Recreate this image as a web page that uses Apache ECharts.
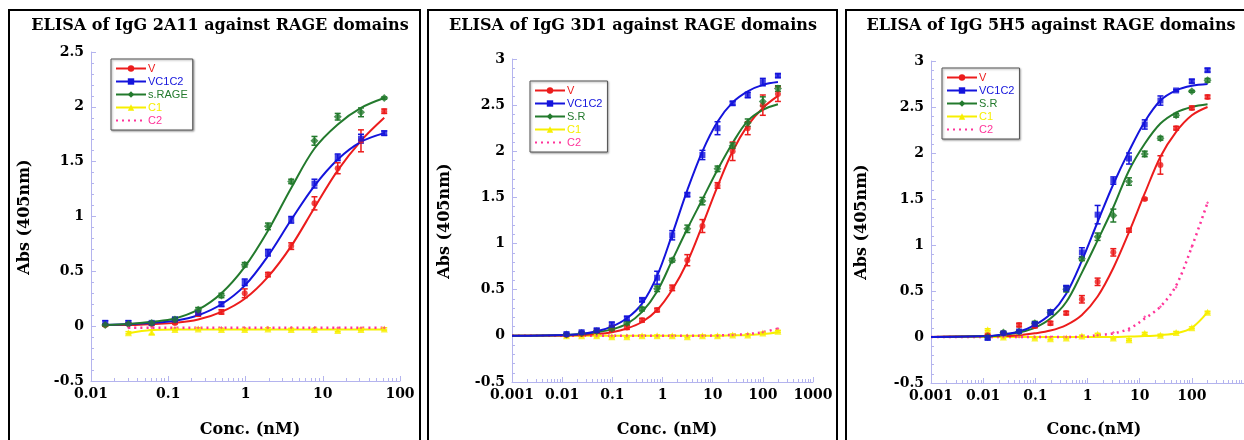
<!DOCTYPE html>
<html>
<head>
<meta charset="utf-8">
<title>ELISA of IgG against RAGE domains</title>
<script src="https://cdn.jsdelivr.net/npm/echarts@6/dist/echarts.min.js"></script>
<style>
html,body{margin:0;padding:0;background:#fff;}
#chart{width:1244px;height:440px;}
</style>
</head>
<body>
<div id="chart"></div>
<script>
// ===== data =====
// concentrations (nM), 2-fold dilution series
var concA = [0.0153, 0.0305, 0.061, 0.122, 0.244, 0.488, 0.977, 1.953, 3.906, 7.8125, 15.625, 31.25, 62.5];
var concB = [0.0122, 0.0244, 0.0488, 0.0977, 0.195, 0.391, 0.781, 1.5625, 3.125, 6.25, 12.5, 25, 50, 100, 200];
// panels 2 and 3: fitted curves start at the left end of the axis
var fitB = [0.001, 0.0122, 0.0244, 0.0488, 0.0977, 0.195, 0.391, 0.781, 1.5625, 3.125, 6.25, 12.5, 25, 50, 100, 200];

var titles = ['ELISA of IgG 2A11 against RAGE domains', 'ELISA of IgG 3D1 against RAGE domains', 'ELISA of IgG 5H5 against RAGE domains'];
var xNames = ['Conc. (nM)', 'Conc. (nM)', 'Conc.(nM)'];
var yName = 'Abs (405nm)';
var legend1 = ['V', 'VC1C2', 's.RAGE', 'C1', 'C2'];
var legend2 = ['V', 'VC1C2', 'S.R', 'C1', 'C2'];

// panel 1 : IgG 2A11
var p1V      = [0.01, 0.02, 0.02, 0.03, 0.11, 0.13, 0.30, 0.47, 0.73, 1.12, 1.44, 1.69, 1.96];
var p1VErr   = [0.01, 0.01, 0.01, 0.01, 0.02, 0.02, 0.04, 0.02, 0.03, 0.06, 0.05, 0.10, 0.02];
var p1VC     = [0.03, 0.03, 0.03, 0.06, 0.12, 0.20, 0.40, 0.67, 0.97, 1.30, 1.54, 1.71, 1.76];
var p1VCErr  = [0.02, 0.02, 0.01, 0.02, 0.02, 0.02, 0.03, 0.03, 0.03, 0.04, 0.03, 0.04, 0.02];
var p1SR     = [0.01, 0.02, 0.03, 0.06, 0.15, 0.28, 0.56, 0.91, 1.32, 1.69, 1.91, 1.95, 2.08];
var p1SRErr  = [0.01, 0.01, 0.01, 0.02, 0.02, 0.02, 0.02, 0.03, 0.02, 0.04, 0.03, 0.04, 0.01];
var p1C1     = [null, -0.06, -0.055, -0.03, -0.025, -0.03, -0.03, -0.025, -0.03, -0.03, -0.04, -0.03, -0.025];
var p1C1Err  = [0, 0.01, 0.02, 0.01, 0.01, 0.01, 0.01, 0.01, 0.01, 0.01, 0.01, 0.01, 0.01];
var p1C2     = [null, -0.015, -0.015, -0.015, -0.015, -0.015, -0.015, -0.015, -0.015, -0.015, -0.015, -0.015, -0.015];
var p1VFit   = [0.01, 0.01, 0.02, 0.03, 0.06, 0.13, 0.25, 0.45, 0.73, 1.08, 1.42, 1.69, 1.90];
var p1VCFit  = [0.01, 0.02, 0.03, 0.05, 0.10, 0.20, 0.37, 0.64, 0.97, 1.28, 1.52, 1.68, 1.76];
var p1SRFit  = [0.01, 0.02, 0.04, 0.07, 0.15, 0.30, 0.54, 0.87, 1.26, 1.62, 1.84, 1.99, 2.08];
var p1C1Fit  = [null, -0.065, -0.035, -0.03, -0.03, -0.03, -0.03, -0.03, -0.03, -0.03, -0.03, -0.03, -0.03];
var p1C2Fit  = [null, -0.015, -0.015, -0.015, -0.015, -0.015, -0.015, -0.015, -0.015, -0.015, -0.015, -0.015, -0.015];

// panel 2 : IgG 3D1
var p2V      = [0.01, 0.02, 0.05, 0.08, 0.09, 0.17, 0.28, 0.52, 0.82, 1.19, 1.63, 2.00, 2.25, 2.50, 2.62];
var p2VErr   = [0.01, 0.01, 0.01, 0.03, 0.02, 0.02, 0.02, 0.03, 0.06, 0.07, 0.03, 0.10, 0.07, 0.11, 0.08];
var p2VC     = [0.02, 0.04, 0.06, 0.12, 0.19, 0.39, 0.63, 1.09, 1.53, 1.96, 2.25, 2.52, 2.61, 2.75, 2.82];
var p2VCErr  = [0.01, 0.01, 0.02, 0.03, 0.02, 0.02, 0.07, 0.05, 0.02, 0.05, 0.07, 0.02, 0.03, 0.04, 0.02];
var p2SR     = [0.015, 0.03, 0.05, 0.08, 0.14, 0.29, 0.51, 0.82, 1.16, 1.46, 1.81, 2.06, 2.31, 2.54, 2.68];
var p2SRErr  = [0.01, 0.01, 0.01, 0.02, 0.02, 0.02, 0.03, 0.02, 0.04, 0.04, 0.03, 0.03, 0.04, 0.05, 0.03];
var p2C1     = [0, 0, 0, -0.01, -0.01, 0, 0, 0, -0.01, 0, 0, 0.01, 0.01, 0.03, 0.05];
var p2C1Err  = [0.01, 0.01, 0.01, 0.01, 0.01, 0.01, 0.01, 0.01, 0.01, 0.01, 0.01, 0.01, 0.01, 0.01, 0.01];
var p2C2     = [0, 0, 0, 0, 0, 0, 0, 0, 0, 0, 0, 0.01, 0.02, 0.04, 0.08];
var p2VFit   = [0, 0.005, 0.01, 0.02, 0.04, 0.08, 0.15, 0.28, 0.50, 0.80, 1.20, 1.62, 2.00, 2.28, 2.47, 2.60];
var p2VCFit  = [0, 0.01, 0.02, 0.05, 0.10, 0.19, 0.35, 0.65, 1.10, 1.58, 2.00, 2.32, 2.53, 2.65, 2.72, 2.75];
var p2SRFit  = [0, 0.01, 0.02, 0.04, 0.07, 0.13, 0.26, 0.48, 0.82, 1.16, 1.48, 1.80, 2.09, 2.33, 2.45, 2.51];
var p2C1Fit  = [0, 0, 0, 0, 0, 0, 0, 0, 0, 0, 0, 0, 0.005, 0.01, 0.02, 0.04];
var p2C2Fit  = [0, 0, 0, 0, 0, 0, 0, 0, 0, 0, 0, 0.005, 0.01, 0.02, 0.04, 0.08];

// panel 3 : IgG 5H5
var p3V      = [0.02, 0.04, 0.13, 0.12, 0.15, 0.26, 0.41, 0.60, 0.92, 1.16, 1.50, 1.87, 2.27, 2.49, 2.61];
var p3VErr   = [0.01, 0.01, 0.02, 0.02, 0.02, 0.02, 0.04, 0.04, 0.04, 0.02, 0.01, 0.10, 0.02, 0.02, 0.02];
var p3VC     = [-0.01, 0.04, 0.06, 0.14, 0.27, 0.53, 0.92, 1.33, 1.70, 1.94, 2.31, 2.57, 2.68, 2.78, 2.90];
var p3VCErr  = [0.02, 0.01, 0.01, 0.02, 0.02, 0.03, 0.05, 0.10, 0.04, 0.06, 0.05, 0.05, 0.01, 0.02, 0.02];
var p3SR     = [0, 0.05, 0.06, 0.15, 0.27, 0.52, 0.85, 1.09, 1.32, 1.69, 1.99, 2.16, 2.41, 2.67, 2.79];
var p3SRErr  = [0.01, 0.01, 0.01, 0.02, 0.02, 0.03, 0.02, 0.04, 0.07, 0.04, 0.03, 0.02, 0.02, 0.01, 0.02];
var p3C1     = [0.08, 0, 0.06, -0.01, -0.02, -0.01, 0.01, 0.03, -0.01, -0.03, 0.04, 0.02, 0.05, 0.10, 0.27];
var p3C1Err  = [0.01, 0.01, 0.01, 0.01, 0.01, 0.01, 0.01, 0.01, 0.01, 0.01, 0.01, 0.01, 0.01, 0.01, 0.01];
var p3C2     = [0, 0, 0, 0, 0, 0, 0.01, 0.02, 0.05, 0.07, 0.22, 0.33, 0.54, 0.98, 1.46];
var p3VFit   = [0, 0.01, 0.01, 0.02, 0.04, 0.07, 0.13, 0.24, 0.44, 0.75, 1.14, 1.56, 1.96, 2.23, 2.41, 2.50];
var p3VCFit  = [0, 0.01, 0.03, 0.06, 0.13, 0.25, 0.47, 0.83, 1.25, 1.66, 2.02, 2.34, 2.57, 2.68, 2.73, 2.75];
var p3SRFit  = [0, 0.01, 0.02, 0.05, 0.10, 0.20, 0.38, 0.70, 1.05, 1.41, 1.81, 2.10, 2.32, 2.44, 2.50, 2.53];
var p3C1Fit  = [0, 0, 0, 0, 0, 0, 0, 0, 0, 0, 0.005, 0.01, 0.02, 0.04, 0.10, 0.27];
var p3C2Fit  = [0, 0, 0, 0, 0, 0, 0, 0, 0.02, 0.04, 0.09, 0.20, 0.33, 0.56, 0.98, 1.46];

// ===== styling =====
var RED = '#ec1c1c', BLUE = '#1414dc', GREEN = '#237a2d', YELLOW = '#f7ef00', PINK = '#ff3399';
var AXIS = '#b4b4ee';
var SERIF = '"DejaVu Serif", serif';
var SANS = '"Liberation Sans", Arial, sans-serif';

// pixel boxes of the three plots
var grids = [
	{left: 91, top: 52, width: 309, height: 329},
	{left: 512, top: 59, width: 301, height: 323},
	{left: 931, top: 61, width: 322, height: 322}
];
var xRange = [[0.01, 100], [0.001, 1000], [0.001, 1000]];
var yRange = [[-0.5, 2.5], [-0.5, 3], [-0.5, 3]];

function pairs(xs, ys){
	var out = [];
	for(var i = 0; i < xs.length; i++){
		if(ys[i] !== null && ys[i] !== undefined) out.push([xs[i], ys[i]]);
	}
	return out;
}
function bars(xs, ys, es){
	var out = [];
	for(var i = 0; i < xs.length; i++){
		if(ys[i] === null || !es || !es[i]) continue;
		out.push([xs[i], ys[i] - es[i], ys[i] + es[i]]);
	}
	return out;
}
function errorBar(params, api){
	var x = api.value(0);
	var top = api.coord([x, api.value(2)]);
	var bot = api.coord([x, api.value(1)]);
	var w = 3;
	var style = {stroke: api.visual('color'), lineWidth: 1.5};
	return {type: 'group', children: [
		{type: 'line', shape: {x1: top[0], y1: top[1], x2: bot[0], y2: bot[1]}, style: style},
		{type: 'line', shape: {x1: top[0] - w, y1: top[1], x2: top[0] + w, y2: top[1]}, style: style},
		{type: 'line', shape: {x1: bot[0] - w, y1: bot[1], x2: bot[0] + w, y2: bot[1]}, style: style}
	]};
}

var series = [];
function addPanel(idx, groups){
	groups.forEach(function(g){
		// fitted curve (carries the legend icon)
		series.push({
			name: g.name, type: 'line', xAxisIndex: idx, yAxisIndex: idx,
			data: pairs(g.fitX, g.fit), smooth: 0.35, showSymbol: false,
			symbol: g.dotted ? 'none' : g.symbol, symbolSize: g.size,
			lineStyle: {color: g.color, width: g.dotted ? 2.5 : 2, type: g.dotted ? [2, 4] : 'solid'},
			itemStyle: {color: g.color}, z: 2, silent: true
		});
		if(g.err){
			series.push({
				name: g.name + ' err', type: 'custom', xAxisIndex: idx, yAxisIndex: idx,
				renderItem: errorBar, data: bars(g.x, g.y, g.err), encode: {x: 0, y: [1, 2]},
				itemStyle: {color: g.color}, z: 3, silent: true
			});
		}
		series.push({
			name: g.name + ' pts', type: 'scatter', xAxisIndex: idx, yAxisIndex: idx,
			data: pairs(g.x, g.y), symbol: g.symbol, symbolSize: g.dotted ? 3 : g.size,
			itemStyle: {color: g.color}, z: 4, silent: true
		});
	});
}

addPanel(0, [
	{name: 'V', color: RED, symbol: 'circle', size: 6, x: concA, y: p1V, err: p1VErr, fitX: concA, fit: p1VFit},
	{name: 'VC1C2', color: BLUE, symbol: 'rect', size: 6, x: concA, y: p1VC, err: p1VCErr, fitX: concA, fit: p1VCFit},
	{name: 's.RAGE', color: GREEN, symbol: 'diamond', size: 8, x: concA, y: p1SR, err: p1SRErr, fitX: concA, fit: p1SRFit},
	{name: 'C1', color: YELLOW, symbol: 'triangle', size: 7, x: concA, y: p1C1, err: p1C1Err, fitX: concA, fit: p1C1Fit},
	{name: 'C2', color: PINK, symbol: 'diamond', size: 4, dotted: true, x: concA, y: p1C2, fitX: concA, fit: p1C2Fit}
]);
addPanel(1, [
	{name: 'C1', color: YELLOW, symbol: 'triangle', size: 7, x: concB, y: p2C1, err: p2C1Err, fitX: fitB, fit: p2C1Fit},
	{name: 'C2', color: PINK, symbol: 'diamond', size: 4, dotted: true, x: concB, y: p2C2, fitX: fitB, fit: p2C2Fit},
	{name: 'V', color: RED, symbol: 'circle', size: 6, x: concB, y: p2V, err: p2VErr, fitX: fitB, fit: p2VFit},
	{name: 'S.R', color: GREEN, symbol: 'diamond', size: 8, x: concB, y: p2SR, err: p2SRErr, fitX: fitB, fit: p2SRFit},
	{name: 'VC1C2', color: BLUE, symbol: 'rect', size: 6, x: concB, y: p2VC, err: p2VCErr, fitX: fitB, fit: p2VCFit}
]);
addPanel(2, [
	{name: 'C1', color: YELLOW, symbol: 'triangle', size: 7, x: concB, y: p3C1, err: p3C1Err, fitX: fitB, fit: p3C1Fit},
	{name: 'C2', color: PINK, symbol: 'diamond', size: 4, dotted: true, x: concB, y: p3C2, fitX: fitB, fit: p3C2Fit},
	{name: 'V', color: RED, symbol: 'circle', size: 6, x: concB, y: p3V, err: p3VErr, fitX: fitB, fit: p3VFit},
	{name: 'S.R', color: GREEN, symbol: 'diamond', size: 8, x: concB, y: p3SR, err: p3SRErr, fitX: fitB, fit: p3SRFit},
	{name: 'VC1C2', color: BLUE, symbol: 'rect', size: 6, x: concB, y: p3VC, err: p3VCErr, fitX: fitB, fit: p3VCFit}
]);

var nameColor = {'V': RED, 'VC1C2': BLUE, 's.RAGE': GREEN, 'S.R': GREEN, 'C1': YELLOW, 'C2': PINK};
function legendData(names){
	return names.map(function(n){
		var item = {name: n, textStyle: {color: nameColor[n]}};
		// C2 is a plain dotted line in the legend, no marker
		if(n === 'C2') item.itemStyle = {opacity: 0};
		return item;
	});
}
function legendBox(left, top, names){
	return {
		left: left, top: top, orient: 'vertical', data: legendData(names),
		itemWidth: 30, itemHeight: 8, itemGap: 2, padding: [4, 5, 4, 4],
		backgroundColor: '#fff', borderColor: '#555', borderWidth: 1,
		shadowColor: 'rgba(0,0,0,0.35)', shadowBlur: 2, shadowOffsetX: 1, shadowOffsetY: 1,
		textStyle: {fontFamily: SANS, fontSize: 11, padding: [0, 0, 0, -3]},
		selectedMode: false
	};
}

function fmt(v){ return String(+(+v).toPrecision(3)); }

var xAxes = [], yAxes = [];
for(var i = 0; i < 3; i++){
	xAxes.push({
		gridIndex: i, type: 'log', logBase: 10, min: xRange[i][0], max: xRange[i][1],
		axisLine: {show: true, onZero: false, lineStyle: {color: AXIS, width: 1}},
		axisTick: {show: true, inside: true, length: 5, lineStyle: {color: AXIS}},
		minorTick: {show: true, splitNumber: 9, length: 3, lineStyle: {color: AXIS}},
		splitLine: {show: false},
		axisLabel: {color: '#000', fontFamily: SERIF, fontWeight: 'bold', fontSize: 14, margin: 6,
			formatter: fmt, showMinLabel: true, showMaxLabel: i !== 2, hideOverlap: false}
	});
	yAxes.push({
		gridIndex: i, type: 'value', min: yRange[i][0], max: yRange[i][1], interval: 0.5,
		axisLine: {show: true, lineStyle: {color: AXIS, width: 1}},
		axisTick: {show: true, inside: true, length: 5, lineStyle: {color: AXIS}},
		minorTick: {show: true, splitNumber: 5, length: 3, lineStyle: {color: AXIS}},
		splitLine: {show: false},
		axisLabel: {color: '#000', fontFamily: SERIF, fontWeight: 'bold', fontSize: 14, margin: 7, formatter: fmt}
	});
}

// titles, axis names and panel frames
var titlePos = [[220, 26], [633, 26], [1051, 26]];
var yNamePos = [[25, 217], [445, 221], [862, 222]];
var xNamePos = [[250, 430], [667, 430], [1094, 430]];
var frames = [[9, 10, 411, 440], [428, 10, 409, 440], [846, 10, 410, 440]];
var graphics = [];
for(var k = 0; k < 3; k++){
	graphics.push({type: 'rect', shape: {x: frames[k][0], y: frames[k][1], width: frames[k][2], height: frames[k][3]},
		style: {fill: null, stroke: '#000', lineWidth: 2}, silent: true});
	graphics.push({type: 'text', x: titlePos[k][0], y: titlePos[k][1],
		style: {text: titles[k], font: 'bold 16px ' + SERIF, fill: '#000', align: 'center', verticalAlign: 'middle'}});
	graphics.push({type: 'text', x: yNamePos[k][0], y: yNamePos[k][1], rotation: Math.PI / 2,
		style: {text: yName, font: 'bold 16px ' + SERIF, fill: '#000', align: 'center', verticalAlign: 'middle'}});
	graphics.push({type: 'text', x: xNamePos[k][0], y: xNamePos[k][1],
		style: {text: xNames[k], font: 'bold 16px ' + SERIF, fill: '#000', align: 'center', verticalAlign: 'middle'}});
}

var chart = echarts.init(document.getElementById('chart'));
chart.setOption({
	animation: false,
	backgroundColor: '#fff',
	grid: grids,
	xAxis: xAxes,
	yAxis: yAxes,
	legend: [legendBox(111, 59, legend1), legendBox(530, 81, legend2), legendBox(942, 68, legend2)],
	graphic: graphics,
	series: series
});
</script>
</body>
</html>
